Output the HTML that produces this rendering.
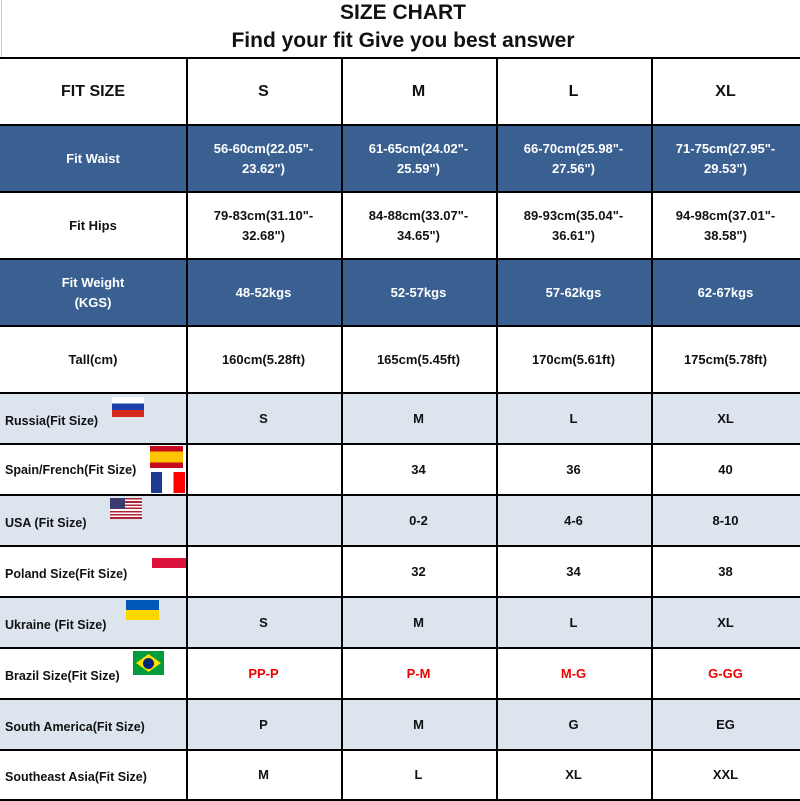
<!DOCTYPE html>
<html><head><meta charset="utf-8"><style>
body{margin:0;width:800px;height:800px;background:#fff;position:relative;overflow:hidden;font-family:"Liberation Sans",sans-serif;font-weight:bold;color:#111}
.t{position:absolute;left:0;width:806px;text-align:center;font-size:21px}
.c{position:absolute;display:flex;align-items:center;justify-content:center;text-align:center;font-size:13px;line-height:20px;box-sizing:border-box}
.h{position:absolute;background:#000}
.f{position:absolute}
</style></head><body>
<div class="t" style="top:1px">SIZE CHART</div>
<div class="t" style="top:29px">Find your fit Give you best answer</div>
<div class="f" style="left:1px;top:0;width:1px;height:800px;background:#ccc"></div>
<div id="g"></div>
<script>
var rows=[58,125,192,259,326,393,444,495,546,597,648,699,750,800];
var cols=[0,186,341,496,651,800];
var bg=['#fff','#3a6091','#fff','#3a6091','#fff','#dce4ee','#fff','#dce4ee','#fff','#dce4ee','#fff','#dce4ee','#fff'];
var data=[
['FIT SIZE','S','M','L','XL'],
['Fit Waist','56-60cm(22.05"-<br>23.62")','61-65cm(24.02"-<br>25.59")','66-70cm(25.98"-<br>27.56")','71-75cm(27.95"-<br>29.53")'],
['Fit Hips','79-83cm(31.10"-<br>32.68")','84-88cm(33.07"-<br>34.65")','89-93cm(35.04"-<br>36.61")','94-98cm(37.01"-<br>38.58")'],
['Fit Weight<br>(KGS)','48-52kgs','52-57kgs','57-62kgs','62-67kgs'],
['Tall(cm)','160cm(5.28ft)','165cm(5.45ft)','170cm(5.61ft)','175cm(5.78ft)'],
['Russia(Fit Size)','S','M','L','XL'],
['Spain/French(Fit Size)','','34','36','40'],
['USA (Fit Size)','','0-2','4-6','8-10'],
['Poland Size(Fit Size)','','32','34','38'],
['Ukraine (Fit Size)','S','M','L','XL'],
['Brazil Size(Fit Size)','PP-P','P-M','M-G','G-GG'],
['South America(Fit Size)','P','M','G','EG'],
['Southeast Asia(Fit Size)','M','L','XL','XXL']];
var h='';
for(var r=0;r<13;r++){
 h+='<div class="f" style="left:0;top:'+rows[r]+'px;width:800px;height:'+(rows[r+1]-rows[r])+'px;background:'+bg[r]+'"></div>';
 for(var c=0;c<5;c++){
  var st='left:'+cols[c]+'px;top:'+rows[r]+'px;width:'+(cols[c+1]-cols[c])+'px;height:'+(rows[r+1]-rows[r])+'px;';
  if(bg[r]=='#3a6091')st+='color:#fff;';
  if(r==10&&c>0)st+='color:#e00;';
  if(r==0)st+='font-size:16px;';
  if(r>=5&&c==0)st+='justify-content:flex-start;padding-left:5px;padding-top:'+(r==6?0:4)+'px;font-size:12.5px;';
  h+='<div class="c" style="'+st+'">'+data[r][c]+'</div>';
 }
}
for(var r=0;r<rows.length;r++)h+='<div class="h" style="left:0;top:'+(rows[r]-1)+'px;width:800px;height:1.5px"></div>';
for(var c=1;c<5;c++)h+='<div class="h" style="left:'+cols[c]+'px;top:58px;width:1.5px;height:742px"></div>';
document.getElementById('g').innerHTML=h;
</script>
<div class="f" style="left:112px;top:397px;width:32px;height:20px;background:linear-gradient(#fff 33%,#1c3fa8 33%,#1c3fa8 66%,#d52b1e 66%)"></div>
<div class="f" style="left:150px;top:446px;width:33px;height:22px;background:linear-gradient(#c60b1e 25%,#ffc400 25%,#ffc400 75%,#c60b1e 75%)"></div>
<div class="f" style="left:151px;top:472px;width:34px;height:21px;background:linear-gradient(90deg,#1f3a93 33%,#fff 33%,#fff 66%,#f00 66%)"></div>
<div class="f" style="left:110px;top:498px;width:32px;height:21px;background:repeating-linear-gradient(#b22234 0 1.6px,#fff 1.6px 3.2px)"></div>
<div class="f" style="left:110px;top:498px;width:15px;height:11px;background:#3c3b6e"></div>
<div class="f" style="left:152px;top:558px;width:34px;height:10px;background:#dc143c"></div>
<div class="f" style="left:126px;top:600px;width:33px;height:20px;background:linear-gradient(#0057b7 50%,#ffd700 50%)"></div>
<div class="f" style="left:133px;top:651px;width:31px;height:24px;background:#009c3b"></div>
<div class="f" style="left:136px;top:654px;width:25px;height:18px;background:#ffdf00;clip-path:polygon(50% 0,100% 50%,50% 100%,0 50%)"></div>
<div class="f" style="left:143px;top:658px;width:11px;height:11px;border-radius:50%;background:#002776"></div>
</body></html>
